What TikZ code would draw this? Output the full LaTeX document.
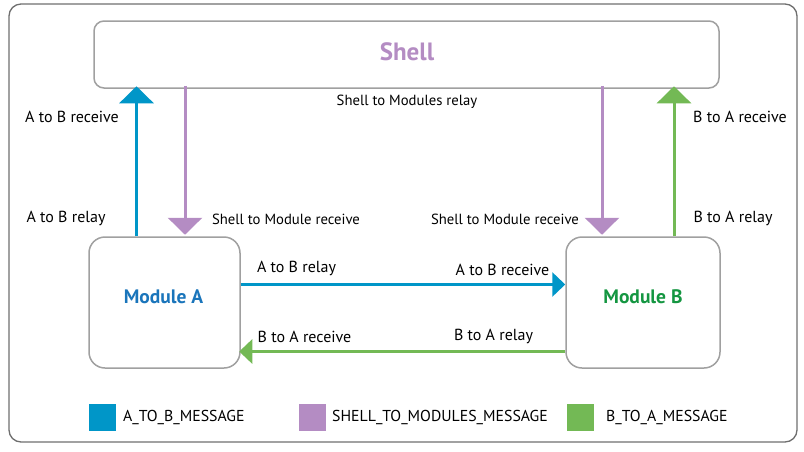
\documentclass[tikz,border=0pt]{standalone}
\usepackage{fontspec}
\setmainfont{PT Sans}
\usetikzlibrary{arrows.meta,calc}
\definecolor{ab}{RGB}{0,150,200}
\definecolor{sm}{RGB}{180,140,195}
\definecolor{ba}{RGB}{115,185,85}
\definecolor{modA}{RGB}{26,117,187}
\definecolor{modB}{RGB}{20,150,65}
\definecolor{boxgray}{RGB}{160,160,160}
\definecolor{framegray}{RGB}{110,110,110}
\begin{document}
\begin{tikzpicture}[x=1pt,y=-1pt,
  box/.style={draw=boxgray,line width=1.5pt,fill=white,inner sep=0pt},
  vflow/.style={line width=3pt,-{Triangle[width=34pt,length=17pt]}},
  hflow/.style={line width=3pt,-{Triangle[width=24pt,length=13pt]}},
  lbl/.style={font=\fontsize{16}{18}\selectfont,inner sep=0pt},
  slbl/.style={font=\fontsize{14.7}{16}\selectfont,inner sep=0pt},
  modtext/.style={font=\fontsize{19.5}{21}\selectfont\bfseries,inner sep=0pt},
  legbox/.style={minimum width=27pt,minimum height=27pt,inner sep=0pt},
  legtext/.style={font=\fontsize{15.8}{17}\selectfont,inner sep=0pt,anchor=west}]
\useasboundingbox (0,0) rectangle (804,451);
\draw[framegray,line width=1.3pt,rounded corners=12pt] (9,4) rectangle (797,442);
% boxes
\node[box,rounded corners=10pt,minimum width=625pt,minimum height=67pt] (S) at (406.5,54.5) {};
\node[font=\fontsize{25}{27}\selectfont\bfseries,text=sm,inner sep=0pt] (Stxt) at (407,52) {Shell};
\node[box,rounded corners=16pt,minimum width=151pt,minimum height=131pt] (A) at (164.5,302.5) {};
\node[modtext,text=modA] (Atxt) at (163.5,297) {Module A};
\node[box,rounded corners=16pt,minimum width=154pt,minimum height=131pt] (B) at (643,302.5) {};
\node[modtext,text=modB] (Btxt) at (643,297) {Module B};
% vertical connectors
\draw[vflow,ab] ($(A.north)+(-28,0)$) -- ($(S.south)+(-270,-2.5)$);
\draw[vflow,sm] ($(S.south)+(-221.5,-3)$) -- ($(A.north)+(20.5,-1.5)$);
\draw[vflow,sm] ($(S.south)+(195.5,-3)$) -- ($(B.north)+(-41,-1.5)$);
\draw[vflow,ba] ($(B.north)+(31,0)$) -- ($(S.south)+(267.5,-2.5)$);
% horizontal connectors
\draw[hflow,ab] ($(A.east)+(0,-18)$) -- ($(B.west)+(0,-18)$);
\draw[hflow,ba] ($(B.west)+(0,49)$) -- ($(A.west)+(151,49)$);
% labels
\node[lbl] (l1) at (72,117) {A to B receive};
\node[lbl] (l2) at (66,218) {A to B relay};
\node[slbl] (l3) at (286,219) {Shell to Module receive};
\node[slbl] (l4) at (407,102) {Shell to Modules relay};
\node[slbl] (l5) at (505,219) {Shell to Module receive};
\node[lbl] (l6) at (740,117) {B to A receive};
\node[lbl] (l7) at (733,218) {B to A relay};
\node[lbl] (l8) at (296.5,268) {A to B relay};
\node[lbl] (l9) at (502.5,270) {A to B receive};
\node[lbl] (l10) at (304.5,337) {B to A receive};
\node[lbl] (l11) at (493.5,336.5) {B to A relay};
% legend
\node[legbox,fill=ab] (k1) at (102.5,417) {};
\node[legtext] (t1) at (123,417) {A\_TO\_B\_MESSAGE};
\node[legbox,fill=sm] (k2) at (312.5,417) {};
\node[legtext] (t2) at (332,417) {SHELL\_TO\_MODULES\_MESSAGE};
\node[legbox,fill=ba] (k3) at (580.5,417) {};
\node[legtext] (t3) at (606,417) {B\_TO\_A\_MESSAGE};
\end{tikzpicture}
\end{document}
